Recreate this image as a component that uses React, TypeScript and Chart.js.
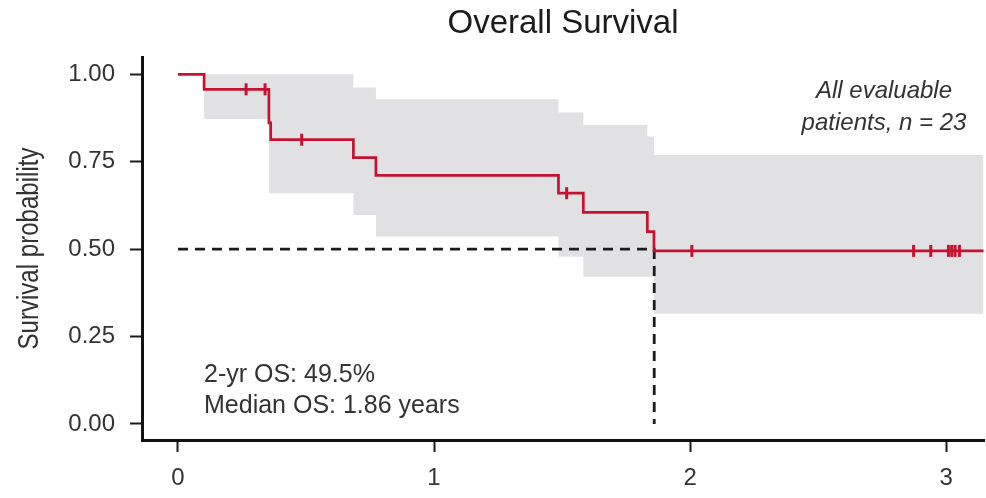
import React, { useEffect, useRef } from 'react';
import { Chart, registerables } from 'chart.js';

Chart.register(...registerables);

// Kaplan-Meier step curve (time in years, survival probability)
const kmTimes = [0, 0.102, 0.355, 0.362, 0.685, 0.773, 1.486, 1.583, 1.833, 1.859, 3.146];
const kmSurv = [1.0, 0.957, 0.861, 0.813, 0.762, 0.711, 0.66, 0.605, 0.55, 0.495, 0.495];

// Confidence band
const ciTimes = [0.102, 0.355, 0.685, 0.773, 1.486, 1.583, 1.833, 1.859, 3.146];
const ciUpper = [1.0, 1.0, 0.962, 0.929, 0.891, 0.855, 0.822, 0.769, 0.769];
const ciLower = [0.872, 0.66, 0.598, 0.536, 0.478, 0.421, 0.421, 0.315, 0.315];

// Censor marks
const censorTimes = [0.266, 0.34, 0.483, 1.518, 2.007, 2.873, 2.94, 3.009, 3.022, 3.035, 3.052];
const censorSurv = [0.957, 0.957, 0.813, 0.66, 0.495, 0.495, 0.495, 0.495, 0.495, 0.495, 0.495];

// Median reference
const medianTime = 1.86;
const medianSurv = 0.5;

// Axis ticks
const xTicks = [0, 1, 2, 3];
const yTicks = [0, 0.25, 0.5, 0.75, 1.0];

const titleText = 'Overall Survival';
const yTitle = 'Survival probability';
const noteLeft = ['2-yr OS: 49.5%', 'Median OS: 1.86 years'];
const noteRight = ['All evaluable', 'patients, n = 23'];

const RED = '#c41230';
const BAND = 'rgb(225,225,228)';
const INK = '#1c1c1c';
const TEXT = '#333333';
const FONT = "'Liberation Sans', Arial, Helvetica, sans-serif";

const pts = (xs: number[], ys: number[]) => xs.map((x, i) => ({ x, y: ys[i] }));

const notesPlugin = {
  id: 'notes',
  afterDraw(chart: any) {
    const { ctx, chartArea } = chart;
    ctx.save();
    ctx.fillStyle = TEXT;
    ctx.textBaseline = 'alphabetic';
    ctx.font = `25px ${FONT}`;
    ctx.textAlign = 'left';
    ctx.fillText(noteLeft[0], chartArea.left + 62, 382);
    ctx.fillText(noteLeft[1], chartArea.left + 62, 413);
    ctx.font = `italic 24px ${FONT}`;
    ctx.textAlign = 'center';
    ctx.fillText(noteRight[0], chartArea.right - 100, 98);
    ctx.fillText(noteRight[1], chartArea.right - 100, 130);
    ctx.restore();

    // y-axis title, condensed
    ctx.save();
    ctx.fillStyle = TEXT;
    ctx.font = `29px ${FONT}`;
    ctx.textAlign = 'center';
    ctx.textBaseline = 'middle';
    ctx.translate(30, (chartArea.top + chartArea.bottom) / 2);
    ctx.rotate(-Math.PI / 2);
    ctx.scale(0.83, 1);
    ctx.fillText(yTitle, 0, 0);
    ctx.restore();
  },
};

export default function App() {
  const ref = useRef<HTMLCanvasElement>(null);

  useEffect(() => {
    document.body.style.margin = '0';
    const canvas = ref.current;
    if (!canvas) return;
    const chart = new Chart(canvas, {
      type: 'scatter',
      data: {
        datasets: [
          {
            label: 'censor',
            data: pts(censorTimes, censorSurv),
            showLine: false,
            pointStyle: 'line',
            rotation: 90,
            pointRadius: 6,
            pointBorderWidth: 3,
            borderColor: RED,
            backgroundColor: RED,
            order: 0,
          } as any,
          {
            label: 'km',
            data: pts(kmTimes, kmSurv),
            showLine: true,
            stepped: 'before',
            borderColor: RED,
            borderWidth: 2.7,
            pointRadius: 0,
            fill: false,
            order: 1,
          } as any,
          {
            label: 'median',
            data: [
              { x: 0, y: medianSurv },
              { x: medianTime, y: medianSurv },
              { x: medianTime, y: 0 },
            ],
            showLine: true,
            borderColor: INK,
            borderWidth: 2.8,
            borderDash: [10, 7],
            pointRadius: 0,
            fill: false,
            order: 2,
          } as any,
          {
            label: 'upper',
            data: pts(ciTimes, ciUpper),
            showLine: true,
            stepped: 'before',
            borderColor: 'rgba(0,0,0,0)',
            borderWidth: 0.01,
            backgroundColor: BAND,
            pointRadius: 0,
            fill: '+1',
            order: 3,
          } as any,
          {
            label: 'lower',
            data: pts(ciTimes, ciLower),
            showLine: true,
            stepped: 'before',
            borderColor: 'rgba(0,0,0,0)',
            borderWidth: 0.01,
            pointRadius: 0,
            fill: false,
            order: 4,
          } as any,
        ],
      },
      options: {
        responsive: false,
        animation: false,
        events: [],
        layout: { autoPadding: false, padding: { left: 0, right: 2, top: 0, bottom: 0 } },
        plugins: {
          legend: { display: false },
          tooltip: { enabled: false },
          title: {
            display: true,
            fullSize: false,
            text: titleText,
            color: INK,
            font: { family: FONT, size: 33, weight: 'normal' },
            padding: { top: 4, bottom: 13.4 },
          },
        },
        scales: {
          x: {
            type: 'linear',
            min: -0.1406,
            max: 3.148,
            afterBuildTicks: (s: any) => {
              s.ticks = xTicks.map((v) => ({ value: v }));
            },
            afterFit: (s: any) => {
              s.height = 58;
              s.paddingLeft = 0;
              s.paddingRight = 0;
            },
            ticks: {
              color: TEXT,
              font: { family: FONT, size: 24 },
              padding: 12,
              callback: (v: any) => String(v),
            },
            grid: {
              display: true,
              drawOnChartArea: false,
              drawTicks: true,
              tickLength: 12,
              tickWidth: 2,
              tickColor: INK,
            },
            border: { display: true, color: '#111111', width: 3 },
          },
          y: {
            type: 'linear',
            min: -0.0458,
            max: 1.0495,
            afterBuildTicks: (s: any) => {
              s.ticks = yTicks.map((v) => ({ value: v }));
            },
            afterFit: (s: any) => {
              s.width = 142;
              s.paddingTop = 0;
              s.paddingBottom = 0;
            },
            ticks: {
              color: TEXT,
              font: { family: FONT, size: 24 },
              padding: 15,
              callback: (v: any) => Number(v).toFixed(2),
            },
            grid: {
              display: true,
              drawOnChartArea: false,
              drawTicks: true,
              tickLength: 12,
              tickWidth: 2,
              tickColor: INK,
            },
            border: { display: true, color: '#111111', width: 3 },
          },
        },
      } as any,
      plugins: [notesPlugin],
    });
    return () => chart.destroy();
  }, []);

  return (
    <div style={{ position: 'absolute', left: 0, top: 0, width: 986, height: 498, background: '#fff' }}>
      <canvas ref={ref} width={986} height={498} style={{ width: 986, height: 498, display: 'block' }} />
    </div>
  );
}
